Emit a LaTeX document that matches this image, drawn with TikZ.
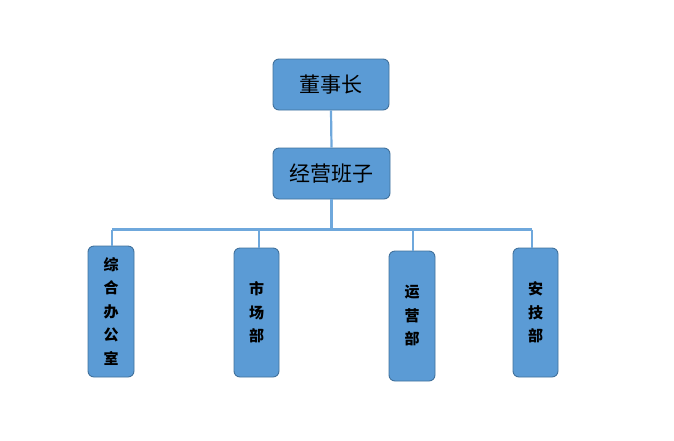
\documentclass[tikz,border=0pt]{standalone}
\usepackage{fontspec}
\newfontfamily\cjk{Noto Sans CJK SC}
\begin{document}
\begin{tikzpicture}[x=1pt,y=-1pt,
  box/.style={draw=boxedge,fill=boxfill,rounded corners=6pt,line width=0.9pt,inner sep=0pt},
  link/.style={draw=linkcol,line width=2.2pt},
  toptext/.style={font=\cjk\fontsize{21}{24}\selectfont},
  vtext/.style={font=\cjk\bfseries\fontsize{15}{23.5}\selectfont,align=center}]
\definecolor{boxfill}{HTML}{5B9BD5}
\definecolor{boxedge}{HTML}{41719C}
\definecolor{linkcol}{HTML}{6FA8DC}
\useasboundingbox (0,0) rectangle (674,440);
% connectors
\coordinate (busL) at (112,229.5);
\coordinate (busR) at (532,229.5);
% top boxes
\node[box,minimum width=116pt,minimum height=51pt] (ceo) at (331,84.5) {};
\node[toptext] at (ceo.center) {董事长};
\node[box,minimum width=117pt,minimum height=51pt] (mgmt) at (331.5,173.5) {};
\node[toptext] at (mgmt.center) {经营班子};
% bottom boxes
\node[box,minimum width=46pt,minimum height=131pt] (b1) at (111,311.5) {};
\node[vtext] at (b1.center) {综\\合\\办\\公\\室};
\node[box,minimum width=45pt,minimum height=129pt] (b2) at (256.5,312.5) {};
\node[vtext] at (b2.center) {市\\场\\部};
\node[box,minimum width=46pt,minimum height=130pt] (b3) at (412,316) {};
\node[vtext] at (b3.center) {运\\营\\部};
\node[box,minimum width=45pt,minimum height=129pt] (b4) at (535.5,312.5) {};
\node[vtext] at (b4.center) {安\\技\\部};
\draw[link] (ceo.south) -- (mgmt.north);
\draw[link] (mgmt.south) -- (331.5,229.5);
\draw[link] (busL) -- (busR);
\draw[link] (busL) -- (112,246);
\draw[link] (259,229.5) -- (259,248);
\draw[link] (413,229.5) -- (413,251);
\draw[link] (busR) -- (532,248);
\end{tikzpicture}
\end{document}
